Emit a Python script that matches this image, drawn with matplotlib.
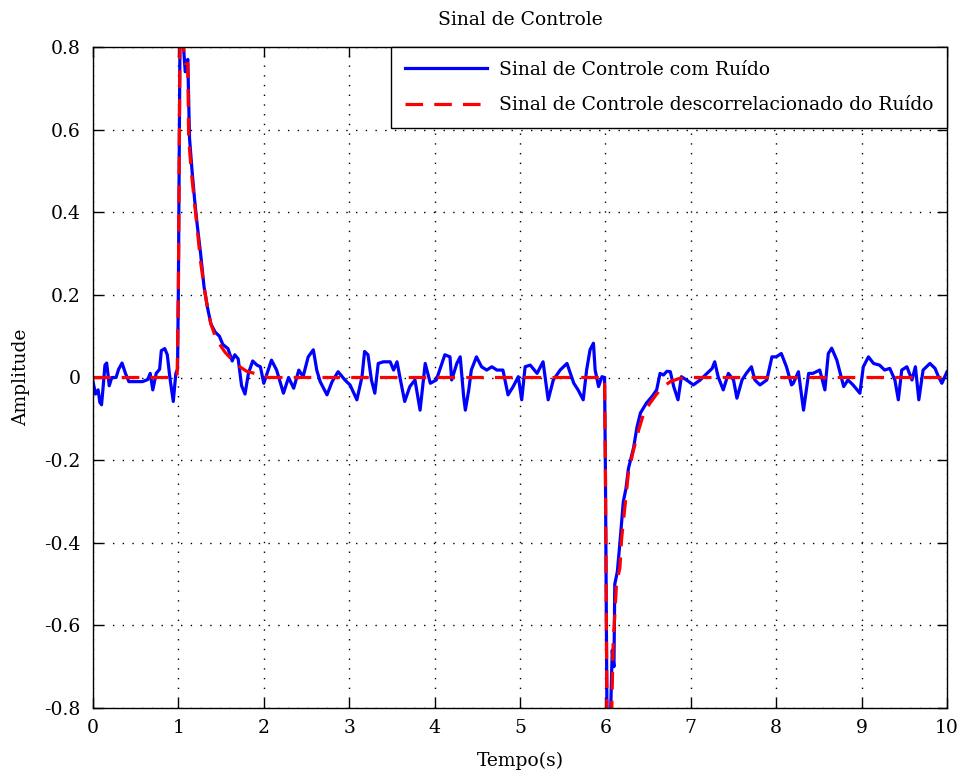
import matplotlib
matplotlib.use("Agg")
import matplotlib.pyplot as plt

# Noisy control signal (blue)
t_noisy = [0.00, 0.03, 0.06, 0.08, 0.10, 0.12, 0.14, 0.16, 0.18, 0.19, 0.22, 0.27, 0.30, 0.34, 0.38,
           0.42, 0.50, 0.58, 0.64, 0.67, 0.70, 0.74, 0.78, 0.80, 0.84, 0.87, 0.90, 0.94, 0.97, 0.99,
           1.00, 1.02, 1.06, 1.08, 1.11, 1.13, 1.16, 1.19, 1.22, 1.26, 1.30, 1.34, 1.38, 1.43, 1.48,
           1.52, 1.58, 1.63, 1.66, 1.70, 1.74, 1.78, 1.82, 1.87, 1.92, 1.96, 2.00, 2.09, 2.15, 2.23,
           2.29, 2.35, 2.41, 2.46, 2.52, 2.58, 2.62, 2.66, 2.74, 2.80, 2.87, 2.95, 3.01, 3.09, 3.15,
           3.18, 3.22, 3.26, 3.30, 3.34, 3.40, 3.48, 3.52, 3.56, 3.60, 3.65, 3.71, 3.77, 3.83, 3.89,
           3.95, 4.02, 4.12, 4.18, 4.20, 4.26, 4.30, 4.34, 4.36, 4.40, 4.43, 4.49, 4.55, 4.61, 4.67,
           4.73, 4.80, 4.86, 4.92, 4.98, 5.02, 5.06, 5.12, 5.20, 5.27, 5.33, 5.39, 5.47, 5.55, 5.63,
           5.68, 5.74, 5.78, 5.82, 5.86, 5.88, 5.92, 5.96, 5.99, 6.00, 6.02, 6.06, 6.08, 6.10, 6.11,
           6.14, 6.17, 6.21, 6.24, 6.27, 6.33, 6.37, 6.41, 6.48, 6.55, 6.60, 6.64, 6.68, 6.72, 6.76,
           6.80, 6.85, 6.89, 6.95, 7.03, 7.11, 7.19, 7.25, 7.28, 7.32, 7.38, 7.44, 7.50, 7.54, 7.60,
           7.65, 7.71, 7.75, 7.81, 7.89, 7.95, 8.00, 8.06, 8.12, 8.18, 8.20, 8.26, 8.32, 8.38, 8.43,
           8.51, 8.57, 8.61, 8.65, 8.71, 8.75, 8.79, 8.84, 8.90, 8.98, 9.02, 9.08, 9.14, 9.21, 9.27,
           9.33, 9.39, 9.43, 9.47, 9.53, 9.59, 9.63, 9.67, 9.72, 9.80, 9.86, 9.90, 9.94, 10.00]
u_noisy = [-0.010, -0.040, -0.030, -0.060, -0.066, -0.020, 0.030, 0.035, 0.000, -0.020, 0.000, 0.000, 0.020, 0.035, 0.010,
           -0.010, -0.010, -0.010, -0.005, 0.010, -0.030, 0.010, 0.020, 0.065, 0.070, 0.055, 0.000, -0.058, 0.010, 0.020,
           0.220, 0.870, 0.800, 0.740, 0.770, 0.580, 0.500, 0.430, 0.370, 0.300, 0.220, 0.170, 0.130, 0.110, 0.100,
           0.080, 0.070, 0.040, 0.055, 0.045, -0.020, -0.040, 0.010, 0.040, 0.030, 0.026, -0.014, 0.042, 0.018, -0.038,
           0.000, -0.026, 0.018, 0.002, 0.050, 0.067, 0.018, -0.010, -0.042, -0.010, 0.014, -0.006, -0.018, -0.054, 0.002,
           0.063, 0.055, -0.006, -0.038, 0.034, 0.038, 0.038, 0.018, 0.038, -0.006, -0.058, -0.022, -0.006, -0.079, 0.034,
           -0.014, -0.006, 0.055, 0.050, -0.006, 0.034, 0.050, -0.046, -0.079, -0.030, 0.018, 0.050, 0.026, 0.018, 0.026,
           0.018, 0.018, -0.042, -0.022, 0.002, -0.054, 0.026, 0.030, 0.010, 0.038, -0.054, -0.006, 0.018, 0.034, -0.014,
           -0.030, -0.054, 0.018, 0.067, 0.083, 0.018, -0.022, 0.002, 0.000, -0.220, -0.870, -0.820, -0.660, -0.700, -0.500,
           -0.470, -0.400, -0.300, -0.270, -0.220, -0.170, -0.120, -0.086, -0.062, -0.045, -0.030, 0.010, 0.006, 0.015, 0.014,
           -0.022, -0.054, 0.002, -0.006, -0.018, -0.006, 0.010, 0.022, 0.038, 0.002, -0.030, 0.010, -0.006, -0.050, -0.006,
           0.010, 0.026, -0.006, -0.018, -0.006, 0.050, 0.050, 0.058, 0.026, -0.018, -0.014, 0.014, -0.079, 0.010, 0.010,
           0.018, -0.030, 0.058, 0.071, 0.042, 0.010, -0.022, -0.006, -0.018, -0.038, 0.026, 0.050, 0.034, 0.030, 0.018,
           0.022, -0.006, -0.054, 0.018, 0.026, -0.006, 0.026, -0.054, 0.018, 0.034, 0.022, 0.002, -0.014, 0.014]

# Control signal decorrelated from noise (red)
t_clean = [0.00, 0.985, 1.00, 1.02, 1.06, 1.08, 1.11, 1.12, 1.15, 1.19, 1.22, 1.26, 1.30, 1.34, 1.38,
           1.43, 1.50, 1.55, 1.62, 1.69, 1.80, 1.98, 2.05, 5.99, 6.00, 6.02, 6.07, 6.09, 6.13, 6.17,
           6.19, 6.23, 6.27, 6.33, 6.39, 6.45, 6.52, 6.60, 6.68, 6.76, 6.87, 7.00, 10.00]
u_clean = [0.000, 0.000, 0.220, 0.870, 0.800, 0.760, 0.760, 0.580, 0.500, 0.420, 0.360, 0.280, 0.220, 0.170, 0.130,
           0.100, 0.075, 0.060, 0.045, 0.030, 0.015, 0.005, 0.000, 0.000, -0.220, -0.870, -0.850, -0.650, -0.500, -0.460,
           -0.390, -0.310, -0.230, -0.175, -0.127, -0.086, -0.063, -0.040, -0.022, -0.010, -0.002, 0.000, 0.000]

x_ticks = [0, 1, 2, 3, 4, 5, 6, 7, 8, 9, 10]
y_ticks = [-0.8, -0.6, -0.4, -0.2, 0.0, 0.2, 0.4, 0.6, 0.8]
y_tick_labels = ["-0.8", "-0.6", "-0.4", "-0.2", "0", "0.2", "0.4", "0.6", "0.8"]

plt.rcParams['font.family'] = ['DejaVu Serif']
FS = 13.5

fig = plt.figure(figsize=(9.6, 7.76), dpi=100)
ax = fig.add_axes([93/960, 68/776, 854/960, 661/776])

ax.plot(t_noisy, u_noisy, color='#0000ff', lw=2.3, label='Sinal de Controle com Ruído')
ax.plot(t_clean, u_clean, color='#ff0000', lw=2.3, linestyle=(0, (5.5, 3.5)),
        label='Sinal de Controle descorrelacionado do Ruído')

ax.set_xlim(0, 10)
ax.set_ylim(-0.8, 0.8)
ax.set_xticks(x_ticks)
ax.set_xticklabels([str(v) for v in x_ticks])
ax.set_yticks(y_ticks)
ax.set_yticklabels(y_tick_labels)
ax.tick_params(direction='in', length=7, width=1, top=True, right=True, labelsize=FS)
ax.tick_params(axis='y', pad=9)
ax.tick_params(axis='x', pad=8)
ax.grid(True, color='black', linestyle=(0, (1, 6)), linewidth=1.0)
for s in ax.spines.values():
    s.set_linewidth(1.0)
    s.set_color('black')

ax.set_title('Sinal de Controle', fontsize=FS, pad=16)
ax.set_xlabel('Tempo(s)', fontsize=FS)
ax.xaxis.set_label_coords(0.5, -0.066)
ax.set_ylabel('Amplitude', fontsize=FS)
ax.yaxis.set_label_coords(-0.074, 0.5)

leg = ax.legend(loc='upper right', fontsize=FS, frameon=True, fancybox=False,
                edgecolor='black', framealpha=1, borderaxespad=0, handlelength=4.4,
                handletextpad=0.6, borderpad=0.74, labelspacing=0.92)
leg.get_frame().set_linewidth(1.0)

fig.savefig('out.png', dpi=100, facecolor='white')
